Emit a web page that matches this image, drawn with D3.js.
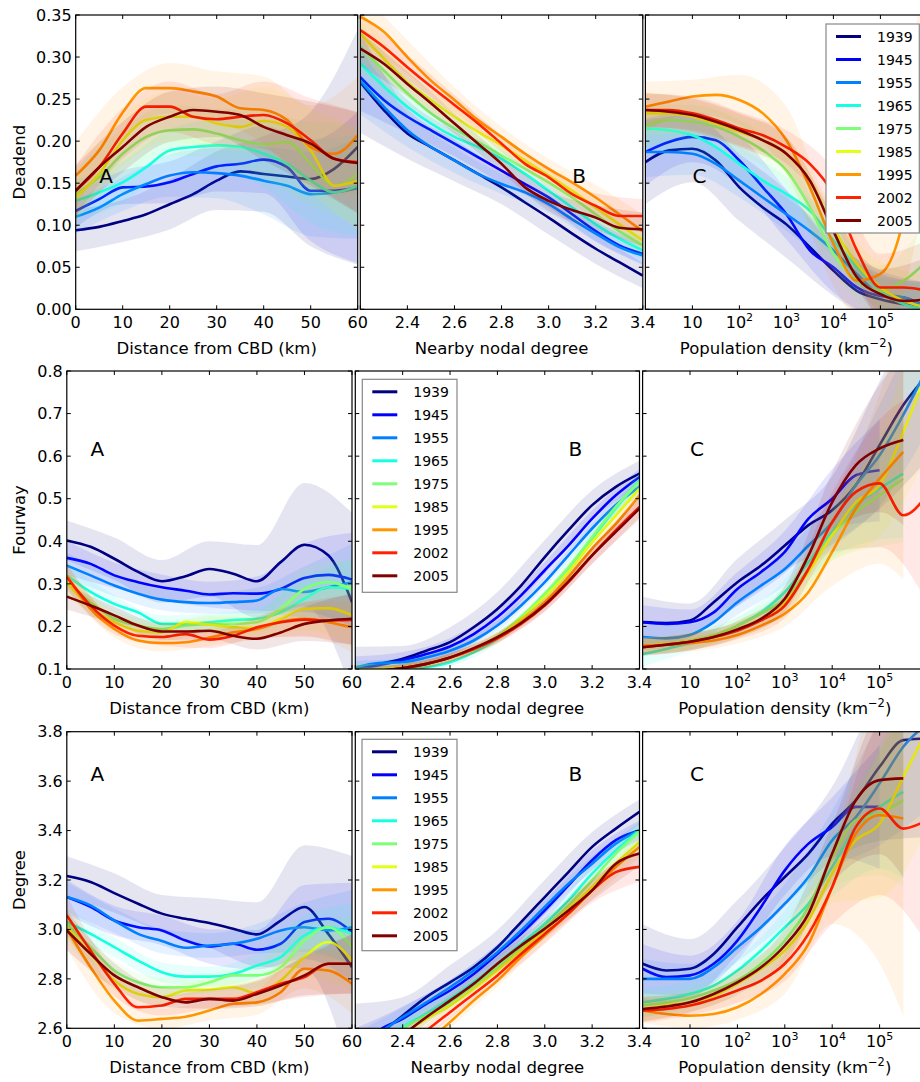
<!DOCTYPE html>
<html>
<head>
<meta charset="utf-8">
<script src="https://cdn.jsdelivr.net/npm/d3@7"></script>
<style>
body { margin: 0; background: #fff; }
svg { display: block; font-family: "DejaVu Sans", sans-serif; }
</style>
</head>
<body>
<svg id="fig" width="920" height="1082"></svg>
<script>
// years + jet colours
var years = ['1939', '1945', '1955', '1965', '1975', '1985', '1995', '2002', '2005'];
var colors = ['#000080', '#0000ff', '#0080ff', '#15ffe2', '#7dff7a', '#e2ff15', '#ff9700', '#ff2100', '#800000'];

// x samples of the curves (bands use every other sample)
var distX = [0, 5, 10, 15, 20, 25, 30, 35, 40, 45, 50, 55, 60];
var degX = [2.2, 2.3, 2.4, 2.5, 2.6, 2.7, 2.8, 2.9, 3.0, 3.1, 3.2, 3.3, 3.4];
var popExp = [0, 0.5, 1, 1.5, 2, 2.5, 3, 3.5, 4, 4.5, 5, 5.5, 6];

// ticks
var distTicks = [0, 10, 20, 30, 40, 50, 60];
var degTicks = [2.2, 2.4, 2.6, 2.8, 3.0, 3.2, 3.4];
var popTicks = [1, 10, 100, 1000, 10000, 100000, 1000000];
var deadendTicks = [0, 0.05, 0.10, 0.15, 0.20, 0.25, 0.30, 0.35];
var fourwayTicks = [0.1, 0.2, 0.3, 0.4, 0.5, 0.6, 0.7, 0.8];
var degreeTicks = [2.6, 2.8, 3.0, 3.2, 3.4, 3.6, 3.8];

// ---- Deadend ----
var deadendDist = [
  [0.094,0.098,0.105,0.113,0.125,0.137,0.153,0.164,0.161,0.158,0.155,0.167,0.193],
  [0.117,0.131,0.145,0.146,0.151,0.161,0.170,0.173,0.178,0.169,0.141,0.141,0.145],
  [0.110,0.121,0.137,0.149,0.159,0.163,0.162,0.159,0.153,0.147,0.137,0.139,0.144],
  [0.129,0.139,0.151,0.169,0.189,0.193,0.195,0.193,0.185,0.173,0.153,0.139,0.147],
  [0.137,0.157,0.185,0.205,0.213,0.214,0.209,0.201,0.196,0.199,0.173,0.147,0.161],
  [0.133,0.161,0.201,0.225,0.229,0.229,0.221,0.217,0.224,0.217,0.189,0.147,0.153],
  [0.159,0.189,0.234,0.263,0.263,0.259,0.253,0.239,0.237,0.225,0.193,0.185,0.207],
  [0.141,0.169,0.209,0.241,0.241,0.229,0.226,0.229,0.231,0.221,0.201,0.179,0.175],
  [0.141,0.169,0.193,0.217,0.229,0.237,0.235,0.231,0.217,0.207,0.197,0.179,0.174]
];
var deadendDistBand = [
  [0.025,0.025,0.03,0.035,0.045,0.08,0.14],
  [0.02,0.02,0.025,0.03,0.04,0.06,0.09],
  [0.02,0.02,0.025,0.03,0.04,0.05,0.06],
  [0.025,0.025,0.025,0.03,0.04,0.05,0.06],
  [0.03,0.03,0.03,0.03,0.04,0.05,0.06],
  [0.03,0.03,0.03,0.03,0.04,0.05,0.06],
  [0.04,0.03,0.03,0.03,0.04,0.05,0.07],
  [0.03,0.03,0.03,0.03,0.04,0.05,0.06],
  [0.03,0.03,0.03,0.03,0.04,0.05,0.06]
];
var deadendDeg = [
  [0.270,0.237,0.209,0.193,0.177,0.161,0.145,0.127,0.109,0.090,0.072,0.056,0.040],
  [0.276,0.249,0.229,0.213,0.197,0.181,0.165,0.149,0.133,0.113,0.093,0.076,0.066],
  [0.272,0.241,0.213,0.193,0.177,0.161,0.149,0.139,0.125,0.107,0.090,0.074,0.064],
  [0.292,0.265,0.241,0.221,0.205,0.193,0.179,0.161,0.141,0.121,0.101,0.084,0.070],
  [0.312,0.284,0.257,0.233,0.215,0.199,0.183,0.167,0.151,0.133,0.113,0.093,0.076],
  [0.328,0.298,0.270,0.249,0.229,0.211,0.195,0.177,0.159,0.141,0.121,0.101,0.082],
  [0.348,0.330,0.300,0.272,0.249,0.225,0.205,0.185,0.167,0.151,0.133,0.113,0.093],
  [0.332,0.312,0.288,0.265,0.243,0.221,0.197,0.173,0.157,0.137,0.123,0.111,0.111],
  [0.310,0.292,0.268,0.245,0.221,0.197,0.173,0.145,0.129,0.118,0.109,0.097,0.095]
];
var deadendDegBand = [
  [0.06,0.03,0.025,0.02,0.02,0.018,0.015],
  [0.04,0.02,0.015,0.015,0.012,0.012,0.012],
  [0.04,0.02,0.015,0.012,0.01,0.01,0.012],
  [0.03,0.015,0.012,0.01,0.01,0.01,0.012],
  [0.03,0.015,0.012,0.01,0.01,0.01,0.012],
  [0.03,0.015,0.012,0.01,0.01,0.01,0.012],
  [0.03,0.02,0.015,0.012,0.012,0.015,0.02],
  [0.02,0.015,0.012,0.01,0.012,0.015,0.02],
  [0.02,0.015,0.012,0.01,0.012,0.015,0.02]
];
var deadendPop = [
  [0.175,0.189,0.191,0.177,0.145,0.121,0.101,0.074,0.046,0.022,0.012,0.006,0.002],
  [0.187,0.199,0.205,0.201,0.177,0.145,0.113,0.070,0.050,0.026,0.016,0.014,0.002],
  [0.187,0.187,0.185,0.173,0.153,0.133,0.113,0.093,0.070,0.042,0.018,0.014,0.002],
  [0.215,0.213,0.207,0.193,0.173,0.153,0.137,0.117,0.082,0.050,0.022,0.006,0.000],
  [0.219,0.225,0.223,0.217,0.205,0.189,0.165,0.121,0.066,0.034,0.022,0.034,0.058],
  [0.233,0.233,0.229,0.221,0.211,0.201,0.185,0.153,0.097,0.054,0.026,0.010,0.002],
  [0.241,0.247,0.253,0.255,0.249,0.233,0.201,0.145,0.078,0.034,0.042,0.110,0.300],
  [0.237,0.237,0.233,0.225,0.215,0.207,0.193,0.173,0.137,0.070,0.026,0.026,0.022],
  [0.237,0.235,0.231,0.223,0.213,0.201,0.185,0.153,0.093,0.038,0.018,0.010,0.012]
];
var deadendPopBand = [
  [0.05,0.04,0.04,0.04,0.03,0.03,0.03],
  [0.04,0.03,0.03,0.03,0.03,0.03,0.03],
  [0.03,0.025,0.02,0.02,0.02,0.02,0.03],
  [0.025,0.02,0.02,0.02,0.02,0.02,0.03],
  [0.025,0.02,0.02,0.02,0.02,0.03,0.05],
  [0.025,0.02,0.02,0.02,0.02,0.03,0.04],
  [0.03,0.02,0.03,0.04,0.05,0.08,0.15],
  [0.02,0.02,0.02,0.02,0.03,0.04,0.06],
  [0.02,0.02,0.02,0.02,0.02,0.03,0.05]
];

// ---- Fourway ----
var fourwayDist = [
  [0.402,0.387,0.359,0.328,0.306,0.318,0.335,0.324,0.306,0.351,0.392,0.367,0.257],
  [0.361,0.347,0.320,0.304,0.292,0.284,0.275,0.278,0.277,0.288,0.314,0.321,0.310],
  [0.343,0.320,0.296,0.277,0.263,0.257,0.255,0.257,0.261,0.288,0.281,0.292,0.304],
  [0.320,0.281,0.253,0.233,0.206,0.206,0.210,0.215,0.218,0.233,0.265,0.292,0.288],
  [0.304,0.257,0.218,0.202,0.194,0.202,0.206,0.206,0.210,0.241,0.288,0.304,0.288],
  [0.304,0.245,0.210,0.190,0.186,0.210,0.204,0.198,0.196,0.218,0.241,0.243,0.226],
  [0.320,0.241,0.194,0.167,0.161,0.163,0.174,0.186,0.194,0.211,0.218,0.210,0.198],
  [0.316,0.249,0.202,0.178,0.175,0.182,0.169,0.178,0.198,0.210,0.216,0.214,0.215],
  [0.270,0.249,0.226,0.202,0.188,0.188,0.190,0.178,0.171,0.186,0.206,0.214,0.218]
];
var fourwayDistBand = [
  [0.047,0.05,0.05,0.065,0.085,0.145,0.21],
  [0.04,0.03,0.03,0.03,0.04,0.08,0.11],
  [0.03,0.025,0.025,0.025,0.03,0.06,0.09],
  [0.03,0.02,0.02,0.02,0.025,0.05,0.07],
  [0.03,0.02,0.02,0.02,0.025,0.05,0.07],
  [0.03,0.02,0.02,0.02,0.025,0.05,0.07],
  [0.03,0.02,0.02,0.02,0.025,0.04,0.06],
  [0.03,0.02,0.02,0.02,0.025,0.04,0.06],
  [0.03,0.02,0.02,0.02,0.025,0.04,0.06]
];
var fourwayDeg = [
  [0.102,0.112,0.124,0.143,0.163,0.198,0.241,0.296,0.363,0.426,0.485,0.528,0.559],
  [0.100,0.109,0.120,0.135,0.153,0.182,0.222,0.273,0.332,0.390,0.453,0.508,0.551],
  [0.104,0.114,0.116,0.127,0.143,0.167,0.202,0.249,0.304,0.367,0.430,0.485,0.528],
  [0.100,0.100,0.100,0.104,0.116,0.139,0.171,0.218,0.273,0.335,0.406,0.477,0.543],
  [0.096,0.100,0.104,0.112,0.127,0.147,0.177,0.222,0.277,0.339,0.410,0.481,0.540],
  [0.096,0.100,0.104,0.112,0.127,0.147,0.175,0.218,0.269,0.328,0.398,0.461,0.524],
  [0.094,0.096,0.102,0.112,0.127,0.147,0.173,0.210,0.257,0.316,0.383,0.441,0.508],
  [0.094,0.096,0.102,0.112,0.127,0.147,0.172,0.206,0.249,0.304,0.367,0.426,0.481],
  [0.094,0.096,0.102,0.112,0.127,0.149,0.175,0.208,0.251,0.306,0.367,0.422,0.477]
];
var fourwayDegBand = [
  [0.05,0.03,0.035,0.04,0.04,0.035,0.03],
  [0.03,0.02,0.02,0.02,0.02,0.02,0.02],
  [0.015,0.01,0.01,0.012,0.012,0.015,0.02],
  [0.015,0.01,0.01,0.012,0.012,0.015,0.02],
  [0.015,0.01,0.01,0.012,0.012,0.015,0.02],
  [0.015,0.01,0.01,0.012,0.012,0.015,0.02],
  [0.015,0.01,0.01,0.012,0.012,0.015,0.02],
  [0.01,0.01,0.01,0.012,0.015,0.02,0.025],
  [0.01,0.01,0.01,0.012,0.015,0.02,0.025]
];
var fourwayPop = [
  [0.210,0.208,0.214,0.257,0.304,0.343,0.390,0.438,0.473,0.532,0.626,0.720,0.790],
  [0.210,0.206,0.210,0.233,0.288,0.328,0.375,0.453,0.500,0.555,0.567,null,null],
  [0.175,0.172,0.180,0.210,0.257,0.296,0.335,0.390,0.445,0.532,0.602,0.697,0.806],
  [0.135,0.147,0.161,0.175,0.202,0.233,0.281,0.351,0.422,0.485,0.524,0.559,null],
  [0.155,0.159,0.167,0.180,0.202,0.230,0.265,0.335,0.414,0.469,0.508,0.547,null],
  [0.155,0.159,0.165,0.175,0.194,0.218,0.257,0.328,0.414,0.492,0.532,0.657,0.800],
  [0.155,0.157,0.161,0.167,0.180,0.202,0.230,0.281,0.375,0.477,0.547,0.610,null],
  [0.151,0.157,0.164,0.175,0.190,0.214,0.249,0.335,0.445,0.516,0.536,0.461,0.508],
  [0.151,0.157,0.164,0.175,0.193,0.218,0.265,0.367,0.492,0.579,0.618,0.638,null]
];
var fourwayPopBand = [
  [0.06,0.04,0.055,0.06,0.08,0.15,0.2],
  [0.04,0.03,0.04,0.05,0.07,0.12,0.15],
  [0.03,0.025,0.03,0.04,0.06,0.12,0.15],
  [0.03,0.02,0.02,0.03,0.06,0.12,0.15],
  [0.02,0.02,0.02,0.03,0.06,0.12,0.15],
  [0.02,0.02,0.02,0.03,0.06,0.12,0.2],
  [0.02,0.02,0.02,0.03,0.08,0.2,0.3],
  [0.02,0.02,0.02,0.03,0.07,0.15,0.25],
  [0.02,0.02,0.02,0.03,0.07,0.15,0.2]
];

// ---- Degree ----
var degreeDist = [
  [3.216,3.192,3.147,3.104,3.064,3.043,3.026,3.003,2.980,3.036,3.091,2.982,2.847],
  [3.131,3.091,3.036,3.009,2.996,2.955,2.931,2.942,2.918,2.942,3.030,3.043,2.989],
  [3.131,3.097,3.036,2.982,2.953,2.926,2.935,2.942,2.962,2.996,3.009,2.996,3.009],
  [3.030,2.982,2.928,2.874,2.827,2.809,2.809,2.820,2.854,2.888,2.976,3.009,2.982],
  [3.023,2.928,2.834,2.786,2.766,2.766,2.786,2.814,2.814,2.847,2.955,3.009,2.928],
  [3.009,2.901,2.793,2.739,2.726,2.753,2.757,2.766,2.742,2.793,2.888,2.949,2.874],
  [3.003,2.847,2.712,2.631,2.638,2.647,2.672,2.699,2.705,2.746,2.841,2.834,2.780],
  [3.057,2.915,2.780,2.685,2.692,2.719,2.719,2.719,2.746,2.780,2.807,2.861,2.861],
  [2.996,2.901,2.814,2.766,2.726,2.705,2.719,2.712,2.739,2.773,2.814,2.861,2.861]
];
var degreeDistBand = [
  [0.08,0.08,0.075,0.1,0.13,0.25,0.45],
  [0.07,0.06,0.06,0.07,0.08,0.15,0.2],
  [0.06,0.05,0.05,0.05,0.06,0.1,0.15],
  [0.06,0.04,0.04,0.04,0.05,0.08,0.12],
  [0.06,0.04,0.04,0.04,0.05,0.08,0.12],
  [0.06,0.04,0.04,0.04,0.05,0.08,0.12],
  [0.08,0.05,0.04,0.04,0.05,0.08,0.12],
  [0.08,0.05,0.04,0.04,0.05,0.08,0.12],
  [0.08,0.05,0.04,0.04,0.05,0.08,0.12]
];
var degreeDeg = [
  [2.500,2.575,2.651,2.726,2.786,2.847,2.928,3.030,3.131,3.232,3.334,3.408,3.476],
  [2.480,2.590,2.638,2.699,2.753,2.820,2.901,2.982,3.077,3.178,3.280,3.361,3.401],
  [2.500,2.580,2.645,2.705,2.766,2.834,2.908,2.996,3.091,3.185,3.266,3.347,3.401],
  [2.400,2.500,2.604,2.658,2.719,2.786,2.861,2.942,3.023,3.118,3.226,3.320,3.401],
  [2.380,2.480,2.597,2.651,2.705,2.773,2.847,2.928,3.009,3.097,3.199,3.307,3.395],
  [2.360,2.460,2.570,2.638,2.692,2.759,2.834,2.915,2.996,3.084,3.172,3.266,3.354],
  [2.300,2.380,2.460,2.540,2.625,2.712,2.793,2.888,2.976,3.064,3.158,3.253,3.334],
  [2.350,2.430,2.510,2.590,2.665,2.739,2.814,2.901,2.982,3.064,3.158,3.232,3.253],
  [2.370,2.470,2.570,2.645,2.712,2.780,2.861,2.935,3.003,3.077,3.158,3.266,3.307]
];
var degreeDegBand = [
  [0.2,0.075,0.07,0.07,0.07,0.06,0.05],
  [0.12,0.05,0.04,0.04,0.04,0.04,0.04],
  [0.08,0.04,0.03,0.03,0.03,0.03,0.03],
  [0.05,0.03,0.025,0.025,0.03,0.035,0.04],
  [0.05,0.03,0.025,0.025,0.03,0.035,0.04],
  [0.05,0.03,0.025,0.025,0.03,0.035,0.04],
  [0.05,0.03,0.025,0.025,0.03,0.035,0.04],
  [0.05,0.03,0.025,0.03,0.04,0.05,0.06],
  [0.05,0.03,0.025,0.03,0.04,0.04,0.05]
];
var degreePop = [
  [2.861,2.834,2.841,2.901,3.009,3.118,3.212,3.307,3.428,3.523,3.658,3.766,3.773],
  [2.841,2.807,2.814,2.861,2.955,3.091,3.239,3.347,3.415,3.496,3.496,null,null],
  [2.800,2.800,2.800,2.847,2.928,3.009,3.104,3.212,3.361,3.455,3.591,3.739,3.834],
  [2.705,2.719,2.739,2.773,2.834,2.915,3.009,3.104,3.253,3.415,3.496,3.557,null],
  [2.692,2.705,2.722,2.753,2.793,2.861,2.955,3.091,3.293,3.442,3.469,3.523,null],
  [2.678,2.692,2.705,2.732,2.780,2.841,2.915,3.036,3.226,3.361,3.428,3.618,3.807],
  [2.672,2.658,2.651,2.658,2.685,2.739,2.820,2.942,3.172,3.388,3.462,3.449,null],
  [2.672,2.678,2.692,2.719,2.753,2.793,2.861,2.982,3.172,3.415,3.489,3.408,3.442],
  [2.678,2.688,2.705,2.739,2.786,2.847,2.935,3.064,3.307,3.523,3.604,3.611,null]
];
var degreePopBand = [
  [0.16,0.12,0.11,0.12,0.15,0.3,0.4],
  [0.1,0.08,0.08,0.1,0.12,0.25,0.35],
  [0.08,0.06,0.06,0.08,0.12,0.25,0.35],
  [0.06,0.05,0.05,0.07,0.12,0.25,0.35],
  [0.05,0.04,0.05,0.07,0.12,0.25,0.35],
  [0.05,0.04,0.05,0.07,0.12,0.3,0.4],
  [0.05,0.05,0.05,0.08,0.15,0.6,0.8],
  [0.05,0.04,0.05,0.07,0.15,0.35,0.5],
  [0.05,0.04,0.05,0.07,0.12,0.3,0.4]
];

// ---- layout (each row was its own figure, so boxes differ a bit) ----
var rowBoxes = [
  {top: 15,    bottom: 309.3,  xs: [[75.7, 357.7], [360.3, 642.8], [645.4, 927.4]]},
  {top: 371,   bottom: 669,    xs: [[66.8, 352],   [355.3, 639.5], [642.6, 927]]},
  {top: 731.7, bottom: 1028.3, xs: [[66.8, 352],   [355.3, 639.5], [642.6, 927]]}
];

var rowsCfg = [
  {name: 'Deadend', domain: [0, 0.35], ticks: deadendTicks, fmt: d3.format('.2f'), tagY: 0.15,
   lines: [deadendDist, deadendDeg, deadendPop], bands: [deadendDistBand, deadendDegBand, deadendPopBand],
   legend: {col: 2, x: 826, y: 24, w: 93.3, h: 209}},
  {name: 'Fourway', domain: [0.1, 0.8], ticks: fourwayTicks, fmt: d3.format('.1f'), tagY: 0.6,
   lines: [fourwayDist, fourwayDeg, fourwayPop], bands: [fourwayDistBand, fourwayDegBand, fourwayPopBand],
   legend: {col: 1, x: 362.3, y: 379.3, w: 94.7, h: 213}},
  {name: 'Degree', domain: [2.6, 3.8], ticks: degreeTicks, fmt: d3.format('.1f'), tagY: 3.6,
   lines: [degreeDist, degreeDeg, degreePop], bands: [degreeDistBand, degreeDegBand, degreePopBand],
   legend: {col: 1, x: 362, y: 739.3, w: 95, h: 211.4}}
];

var colsCfg = [
  {xs: distX, ticks: distTicks, log: false, domain: [0, 60], tag: 'A', tagX: 5,
   label: 'Distance from CBD (km)'},
  {xs: degX, ticks: degTicks, log: false, domain: [2.2, 3.4], tag: 'B', tagX: 3.1,
   label: 'Nearby nodal degree'},
  {xs: popExp.map(function(e) { return Math.pow(10, e); }), ticks: popTicks, log: true, domain: [1, 1e6], tag: 'C', tagX: 10,
   label: 'Population density (km'}
];

var svg = d3.select('#fig');
var tickLen = 4;

function draw_panel(r, c) {
    var box = rowBoxes[r], rc = rowsCfg[r], cc = colsCfg[c];
    var x0 = box.xs[c][0], x1 = box.xs[c][1];

    var x = (cc.log ? d3.scaleLog() : d3.scaleLinear()).domain(cc.domain).range([x0, x1]);
    var y = d3.scaleLinear().domain(rc.domain).range([box.bottom, box.top]);

    var id = 'clip' + r + c;
    svg.append('clipPath').attr('id', id)
        .append('rect')
        .attr('x', x0).attr('y', box.top)
        .attr('width', x1 - x0).attr('height', box.bottom - box.top);

    var g = svg.append('g').attr('clip-path', 'url(#' + id + ')');

    var line = d3.line()
        .defined(function(d) { return d[1] != null; })
        .x(function(d) { return x(d[0]); })
        .y(function(d) { return y(d[1]); })
        .curve(d3.curveMonotoneX);

    var area = d3.area()
        .x(function(d) { return x(d[0]); })
        .y0(function(d) { return y(d[1] - d[2]); })
        .y1(function(d) { return y(d[1] + d[2]); })
        .curve(d3.curveMonotoneX);

    years.forEach(function(yr, s) {
        var vals = rc.lines[c][s];
        var hw = rc.bands[c][s];
        var pts = cc.xs.map(function(xv, i) { return [xv, vals[i]]; });
        var bpts = [];
        hw.forEach(function(h, k) {
            var i = 2 * k;
            // where the curve stops early, close the band on its last sample
            if (vals[i] == null && vals[i - 1] != null) i = i - 1;
            if (vals[i] != null) bpts.push([cc.xs[i], vals[i], h]);
        });

        g.append('path')
            .attr('d', area(bpts))
            .style('fill', colors[s])
            .style('fill-opacity', 0.1)
            .style('stroke', 'none');

        g.append('path')
            .attr('d', line(pts))
            .style('fill', 'none')
            .style('stroke', colors[s])
            .style('stroke-width', 2.6)
            .style('stroke-linejoin', 'round');
    });

    // panel letter
    svg.append('text')
        .attr('x', x(cc.tagX))
        .attr('y', y(rc.tagY))
        .style('font-size', '20px')
        .text(cc.tag);

    // ticks on all four sides, pointing in
    var tk = svg.append('g').style('stroke', '#000').style('stroke-width', 1);
    cc.ticks.forEach(function(t) {
        var xp = x(t);
        tk.append('line').attr('x1', xp).attr('x2', xp).attr('y1', box.bottom).attr('y2', box.bottom - tickLen);
        tk.append('line').attr('x1', xp).attr('x2', xp).attr('y1', box.top).attr('y2', box.top + tickLen);
    });
    rc.ticks.forEach(function(t) {
        var yp = y(t);
        tk.append('line').attr('x1', x0).attr('x2', x0 + tickLen).attr('y1', yp).attr('y2', yp);
        tk.append('line').attr('x1', x1).attr('x2', x1 - tickLen).attr('y1', yp).attr('y2', yp);
    });

    // x tick labels (first label of B and C is hidden under the neighbour's last)
    cc.ticks.forEach(function(t, i) {
        if (c > 0 && i == 0) return;
        if (cc.log && t > 1e5) return;
        var lab = svg.append('text')
            .attr('x', x(t))
            .attr('y', box.bottom + 19)
            .style('font-size', '16px')
            .style('text-anchor', 'middle');
        if (cc.log) {
            var e = Math.round(Math.log10(t));
            lab.append('tspan').text('10');
            if (e != 1) {
                lab.append('tspan').attr('dy', -7).style('font-size', '11px').text(e);
            }
        } else {
            lab.text(c == 1 ? d3.format('.1f')(t) : t);
        }
    });

    // y tick labels on the left column only
    if (c == 0) {
        rc.ticks.forEach(function(t) {
            svg.append('text')
                .attr('x', x0 - 4)
                .attr('y', y(t))
                .attr('dy', '0.36em')
                .style('font-size', '16px')
                .style('text-anchor', 'end')
                .text(rc.fmt(t));
        });
        svg.append('text')
            .attr('transform', 'translate(19,' + (box.top + box.bottom) / 2 + ') rotate(-90)')
            .attr('dy', '0.36em')
            .style('font-size', '16.5px')
            .style('text-anchor', 'middle')
            .text(rc.name);
    }

    // x axis label
    var xl = svg.append('text')
        .attr('x', (x0 + x1) / 2)
        .attr('y', box.bottom + 45)
        .style('font-size', '16.5px')
        .style('text-anchor', 'middle');
    xl.append('tspan').text(cc.label);
    if (cc.log) {
        xl.append('tspan').attr('dy', -7).style('font-size', '11.5px').text('\u22122');
        xl.append('tspan').attr('dy', 7).text(')');
    }

    // frame
    svg.append('rect')
        .attr('x', x0).attr('y', box.top)
        .attr('width', x1 - x0).attr('height', box.bottom - box.top)
        .style('fill', 'none')
        .style('stroke', '#000')
        .style('stroke-width', 1.2);
}

function draw_legend(lg) {
    var g = svg.append('g');
    g.append('rect')
        .attr('x', lg.x).attr('y', lg.y)
        .attr('width', lg.w).attr('height', lg.h)
        .style('fill', '#fff')
        .style('stroke', '#888')
        .style('stroke-width', 1.2);
    years.forEach(function(yr, i) {
        var yy = lg.y + 12.5 + i * 23;
        g.append('line')
            .attr('x1', lg.x + 10).attr('x2', lg.x + 35)
            .attr('y1', yy).attr('y2', yy)
            .style('stroke', colors[i])
            .style('stroke-width', 3);
        g.append('text')
            .attr('x', lg.x + 51)
            .attr('y', yy)
            .attr('dy', '0.36em')
            .style('font-size', '14px')
            .text(yr);
    });
}

for (var r = 0; r < 3; ++r) {
    for (var c = 0; c < 3; ++c) {
        draw_panel(r, c);
    }
    draw_legend(rowsCfg[r].legend);
}
</script>
</body>
</html>
